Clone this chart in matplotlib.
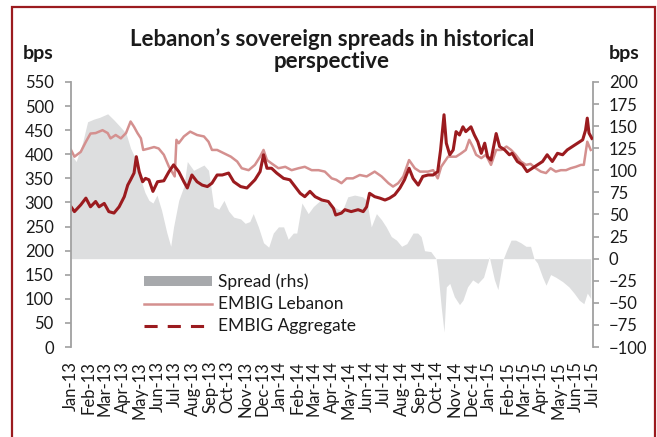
"""Lebanon's sovereign spreads vs EMBIG aggregate, Jan-2013 to Jul-2015."""

import matplotlib
matplotlib.use("Agg")
import matplotlib.pyplot as plt
import matplotlib.dates as mdates
import pandas as pd
from matplotlib.lines import Line2D
from matplotlib.patches import Patch, Rectangle

plt.rcParams["font.family"] = ["Lato", "DejaVu Sans"]

# EMBIG Lebanon (bps, lhs)
LEB_DATES = [
    "2013-01-01", "2013-01-07", "2013-01-18", "2013-01-27", "2013-02-04", "2013-02-13",
    "2013-02-25", "2013-03-06", "2013-03-11", "2013-03-20", "2013-03-29", "2013-04-07",
    "2013-04-15", "2013-04-21", "2013-04-27", "2013-05-03", "2013-05-07", "2013-05-17",
    "2013-05-26", "2013-06-03", "2013-06-12", "2013-06-21", "2013-06-26", "2013-07-01",
    "2013-07-04", "2013-07-08", "2013-07-17", "2013-07-28", "2013-08-09", "2013-08-21",
    "2013-08-29", "2013-09-04", "2013-09-13", "2013-09-25", "2013-10-07", "2013-10-18",
    "2013-10-26", "2013-11-07", "2013-11-18", "2013-11-27", "2013-12-03", "2013-12-09",
    "2013-12-17", "2013-12-29", "2014-01-10", "2014-01-21", "2014-02-02", "2014-02-13",
    "2014-02-25", "2014-03-09", "2014-03-20", "2014-04-01", "2014-04-09", "2014-04-18",
    "2014-04-27", "2014-05-08", "2014-05-20", "2014-06-01", "2014-06-15", "2014-06-27",
    "2014-07-09", "2014-07-17", "2014-07-26", "2014-08-04", "2014-08-14", "2014-08-24",
    "2014-09-02", "2014-09-16", "2014-09-25", "2014-10-03", "2014-10-09", "2014-10-21",
    "2014-11-04", "2014-11-13", "2014-11-21", "2014-11-27", "2014-12-03", "2014-12-09",
    "2014-12-18", "2014-12-26", "2015-01-04", "2015-01-13", "2015-01-22", "2015-01-31",
    "2015-02-08", "2015-02-16", "2015-02-25", "2015-03-06", "2015-03-14", "2015-03-23",
    "2015-04-01", "2015-04-10", "2015-04-18", "2015-04-27", "2015-05-06", "2015-05-15",
    "2015-05-23", "2015-06-01", "2015-06-10", "2015-06-15", "2015-06-21", "2015-06-27",
]
LEB_BPS = [
    409, 395, 405, 426, 443, 444, 450, 444, 433, 440, 433, 444,
    468, 457, 444, 433, 409, 412, 415, 412, 399, 374, 364, 354,
    430, 423, 437, 447, 440, 437, 426, 409, 409, 402, 395, 385,
    371, 367, 378, 395, 409, 388, 381, 371, 374, 367, 371, 374,
    367, 367, 364, 350, 347, 340, 350, 350, 357, 354, 364, 354,
    340, 333, 340, 354, 388, 371, 364, 364, 367, 350, 374, 395,
    395, 402, 409, 430, 416, 399, 392, 399, 378, 409, 409, 416,
    409, 399, 385, 378, 380, 371, 364, 361, 371, 364, 367, 367,
    371, 374, 378, 378, 426, 409,
]

# EMBIG aggregate (bps, lhs)
AGG_DATES = [
    "2013-01-01", "2013-01-07", "2013-01-18", "2013-01-27", "2013-02-04", "2013-02-13",
    "2013-02-19", "2013-02-28", "2013-03-08", "2013-03-17", "2013-03-26", "2013-04-04",
    "2013-04-10", "2013-04-15", "2013-04-21", "2013-04-25", "2013-04-30", "2013-05-06",
    "2013-05-11", "2013-05-17", "2013-05-24", "2013-06-01", "2013-06-12", "2013-06-21",
    "2013-06-29", "2013-07-08", "2013-07-17", "2013-07-23", "2013-07-31", "2013-08-09",
    "2013-08-18", "2013-08-27", "2013-09-04", "2013-09-13", "2013-09-22", "2013-10-03",
    "2013-10-12", "2013-10-24", "2013-11-04", "2013-11-18", "2013-11-27", "2013-12-03",
    "2013-12-09", "2013-12-17", "2013-12-26", "2014-01-07", "2014-01-18", "2014-01-27",
    "2014-02-05", "2014-02-13", "2014-02-22", "2014-03-03", "2014-03-15", "2014-03-26",
    "2014-04-04", "2014-04-08", "2014-04-18", "2014-04-24", "2014-05-05", "2014-05-17",
    "2014-05-26", "2014-06-01", "2014-06-06", "2014-06-15", "2014-06-24", "2014-07-03",
    "2014-07-11", "2014-07-20", "2014-07-29", "2014-08-06", "2014-08-14", "2014-08-21",
    "2014-08-30", "2014-09-07", "2014-09-16", "2014-09-25", "2014-10-03", "2014-10-08",
    "2014-10-14", "2014-10-18", "2014-10-24", "2014-10-30", "2014-11-04", "2014-11-10",
    "2014-11-16", "2014-11-21", "2014-11-30", "2014-12-06", "2014-12-12", "2014-12-18",
    "2014-12-24", "2014-12-29", "2015-01-04", "2015-01-13", "2015-01-19", "2015-01-28",
    "2015-02-05", "2015-02-10", "2015-02-19", "2015-02-28", "2015-03-08", "2015-03-17",
    "2015-03-26", "2015-04-04", "2015-04-12", "2015-04-21", "2015-04-30", "2015-05-09",
    "2015-05-17", "2015-05-26", "2015-06-04", "2015-06-13", "2015-06-18", "2015-06-21",
    "2015-06-24", "2015-06-29",
]
AGG_BPS = [
    291, 281, 295, 309, 291, 302, 291, 298, 281, 278, 291, 312,
    336, 347, 361, 395, 364, 343, 350, 347, 323, 343, 345, 364,
    378, 364, 343, 330, 357, 343, 336, 333, 340, 357, 357, 361,
    343, 333, 330, 347, 364, 399, 371, 371, 361, 350, 347, 333,
    319, 312, 323, 312, 305, 302, 288, 274, 278, 285, 281, 285,
    281, 291, 319, 312, 309, 305, 309, 316, 330, 347, 371, 350,
    336, 354, 357, 357, 364, 409, 482, 423, 399, 409, 447, 440,
    457, 447, 457, 440, 426, 402, 423, 395, 388, 443, 416, 409,
    399, 402, 385, 378, 364, 371, 378, 385, 399, 385, 402, 399,
    409, 416, 423, 430, 450, 475, 444, 433,
]

# Lebanon spread over the aggregate (bps, rhs)
SPREAD_DATES = [
    "2013-01-01", "2013-01-10", "2013-01-21", "2013-01-30", "2013-02-10", "2013-02-20",
    "2013-03-06", "2013-03-17", "2013-03-27", "2013-04-07", "2013-04-15", "2013-04-20",
    "2013-04-26", "2013-05-01", "2013-05-10", "2013-05-17", "2013-05-24", "2013-05-31",
    "2013-06-08", "2013-06-17", "2013-06-24", "2013-06-29", "2013-07-08", "2013-07-17",
    "2013-07-23", "2013-08-03", "2013-08-21", "2013-08-29", "2013-09-07", "2013-09-16",
    "2013-09-25", "2013-10-03", "2013-10-12", "2013-10-24", "2013-11-01", "2013-11-09",
    "2013-11-15", "2013-11-24", "2013-12-03", "2013-12-12", "2013-12-20", "2013-12-29",
    "2014-01-07", "2014-01-15", "2014-01-24", "2014-01-30", "2014-02-08", "2014-02-19",
    "2014-02-28", "2014-03-12", "2014-03-26", "2014-04-04", "2014-04-12", "2014-04-20",
    "2014-04-29", "2014-05-11", "2014-05-25", "2014-06-01", "2014-06-09", "2014-06-18",
    "2014-06-27", "2014-07-05", "2014-07-14", "2014-07-23", "2014-08-01", "2014-08-10",
    "2014-08-21", "2014-08-29", "2014-09-04", "2014-09-10", "2014-09-21", "2014-09-30",
    "2014-10-03", "2014-10-09", "2014-10-14", "2014-10-18", "2014-10-24", "2014-11-01",
    "2014-11-10", "2014-11-16", "2014-11-24", "2014-12-03", "2014-12-12", "2014-12-22",
    "2015-01-01", "2015-01-10", "2015-01-16", "2015-01-25", "2015-01-31", "2015-02-08",
    "2015-02-16", "2015-02-25", "2015-03-06", "2015-03-14", "2015-03-20", "2015-03-26",
    "2015-04-04", "2015-04-10", "2015-04-18", "2015-04-27", "2015-05-09", "2015-05-20",
    "2015-05-29", "2015-06-07", "2015-06-15", "2015-06-21", "2015-06-27",
]
SPREAD_BPS = [
    118, 110, 131, 155, 158, 160, 164, 157, 150, 142, 125, 118,
    112, 93, 75, 66, 63, 72, 55, 30, 14, 36, 66, 82,
    110, 100, 106, 100, 59, 56, 66, 54, 47, 45, 40, 42,
    51, 36, 18, 13, 29, 36, 36, 22, 29, 29, 63, 51,
    59, 66, 62, 59, 56, 55, 70, 72, 70, 66, 36, 51,
    44, 36, 25, 21, 14, 17, 29, 29, 25, 9, 8, 0,
    -13, -54, -83, -32, -28, -43, -52, -47, -32, -24, -28, -21,
    2, -24, -35, -1, 9, 21, 21, 18, 14, 14, 0, -5,
    -21, -30, -18, -21, -26, -32, -39, -47, -51, -39, -45,
]

RED = "#9b1b1f"
PINK = "#d4908f"
GREY_FILL = "#dddedf"
GREY_KEY = "#a7a9ac"
AXIS_GREY = "#a0a0a0"
TEXT = "#1a1a1a"

W, H = 657, 437
fig = plt.figure(figsize=(W / 100, H / 100), dpi=100)
ax = fig.add_axes([71 / W, 1 - 347 / H, 522 / W, 265 / H])
ax2 = ax.twinx()

ax2.fill_between(pd.to_datetime(SPREAD_DATES), SPREAD_BPS, 0,
                 color=GREY_FILL, linewidth=0)
ax.plot(pd.to_datetime(LEB_DATES), LEB_BPS, color=PINK, lw=1.8)
ax.plot(pd.to_datetime(AGG_DATES), AGG_BPS, color=RED, lw=2.2)

# lines drawn above the rhs bars
ax.set_zorder(ax2.get_zorder() + 1)
ax.patch.set_visible(False)

ax.set_xlim(pd.Timestamp("2013-01-01"), pd.Timestamp("2015-07-01"))
ax.set_ylim(0, 550)
ax.set_yticks(range(0, 551, 50))
ax2.set_ylim(-100, 200)
ax2.set_yticks(range(-100, 201, 25))

ax.xaxis.set_major_locator(mdates.MonthLocator())
ax.xaxis.set_major_formatter(mdates.DateFormatter("%b-%y"))

for a in (ax, ax2):
    for side in ("top", "bottom", "left", "right"):
        a.spines[side].set_visible(False)
ax.spines["left"].set_visible(True)
ax2.spines["right"].set_visible(True)
for sp in (ax.spines["left"], ax2.spines["right"]):
    sp.set_color(AXIS_GREY)
    sp.set_linewidth(1.3)

ax.tick_params(axis="y", direction="out", length=4.5, width=1.2, color=AXIS_GREY,
               labelsize=12, labelcolor=TEXT, pad=8)
ax2.tick_params(axis="y", direction="out", length=4.5, width=1.2, color=AXIS_GREY,
                labelsize=12, labelcolor=TEXT, pad=7)
ax.tick_params(axis="x", length=0, labelsize=12, labelcolor=TEXT,
               labelrotation=90, pad=10)

fig.text(332 / W, 1 - 50 / H, "Lebanon’s sovereign spreads in historical\nperspective",
         ha="center", va="center", fontsize=16, fontweight="bold", linespacing=1.05,
         color=TEXT)
fig.text(38 / W, 1 - 53 / H, "bps", ha="center", va="center", fontsize=14,
         fontweight="bold", color=TEXT)
fig.text(624 / W, 1 - 53 / H, "bps", ha="center", va="center", fontsize=14,
         fontweight="bold", color=TEXT)

handles = [
    Patch(facecolor=GREY_KEY, edgecolor="none"),
    Line2D([], [], color=PINK, lw=1.8),
    Line2D([], [], color=RED, lw=2.2, ls=(0, (4.3, 3.3))),
]
ax.legend(handles, ["Spread (rhs)", "EMBIG Lebanon", "EMBIG Aggregate"],
          loc="upper left", bbox_to_anchor=(0.14, 0.277), frameon=False,
          fontsize=12.5, labelcolor=TEXT, handlelength=3.9, handleheight=0.52,
          handletextpad=0.35, labelspacing=0.35, borderpad=0, borderaxespad=0)

# dark-red frame round the exhibit (bottom edge runs off the image)
fig.patches.append(Rectangle((12 / W, -0.05), (655 - 12) / W, 1.05 - 7 / H,
                             transform=fig.transFigure, fill=False,
                             edgecolor=RED, linewidth=1.6))

fig.savefig("out.png", dpi=100)
